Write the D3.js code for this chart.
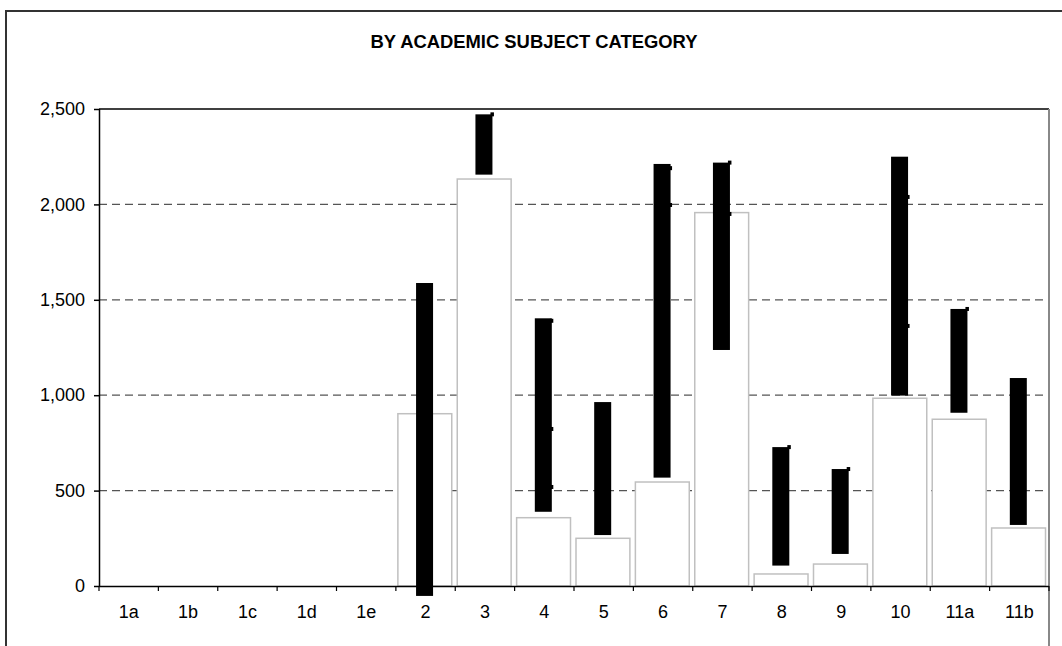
<!DOCTYPE html>
<html>
<head>
<meta charset="utf-8">
<script src="https://cdn.jsdelivr.net/npm/d3@7"></script>
<style>
  body { margin: 0; background: #fff; }
  svg { display: block; font-family: Arial, "Liberation Sans", sans-serif; }
</style>
</head>
<body>
<div id="chart"></div>
<script>
// data
const categories = ['1a', '1b', '1c', '1d', '1e', '2', '3', '4', '5', '6', '7', '8', '9', '10', '11a', '11b'];
const barValues = [0, 0, 0, 0, 0, 903, 2133, 358, 250, 545, 1957, 63, 115, 984, 874, 304];
const rangeLow = [null, null, null, null, null, -52, 2156, 389, 267, 568, 1237, 107, 168, 998, 908, 320];
const rangeHigh = [null, null, null, null, null, 1588, 2472, 1403, 964, 2212, 2219, 728, 613, 2250, 1452, 1090];
const markUpper = [null, null, null, null, null, null, 2472, 1390, null, 2190, 2219, 728, 613, 2039, 1452, null];
const markLower = [null, null, null, null, null, null, null, 823, null, 1997, 1950, null, null, 1363, null, null];
const markBottom = [null, null, null, null, null, null, null, 519, null, null, null, null, null, null, null, null];
const yTicks = [0, 500, 1000, 1500, 2000, 2500];

const W = 1062, H = 646;
const margin = { top: 109, right: 13, bottom: 60, left: 99 };
const plotW = W - margin.left - margin.right;
const plotH = H - margin.top - margin.bottom;

const svg = d3.select('#chart')
  .append('svg')
  .attr('width', W)
  .attr('height', H);

// outer chart frame (cut off at right and bottom)
svg.append('path')
  .attr('d', `M6,${H + 5} L6,11 L${W + 5},11`)
  .attr('fill', 'none')
  .attr('stroke', '#333')
  .attr('stroke-width', 2);

svg.append('text')
  .text('BY ACADEMIC SUBJECT CATEGORY')
  .attr('x', 534)
  .attr('y', 48)
  .attr('text-anchor', 'middle')
  .attr('font-size', 18.4)
  .attr('font-weight', 'bold')
  .attr('fill', '#000');

const g = svg.append('g')
  .attr('transform', `translate(${margin.left}, ${margin.top})`);

const xScale = d3.scaleBand()
  .domain(categories)
  .range([0, plotW])
  .padding(0);

const yScale = d3.scaleLinear()
  .domain([0, 2500])
  .range([plotH, 0]);

// dashed gridlines
g.append('g')
  .selectAll('line')
  .data(yTicks.filter((t) => t > 0 && t < 2500))
  .enter()
  .append('line')
  .attr('x1', 0)
  .attr('x2', plotW)
  .attr('y1', (d) => yScale(d))
  .attr('y2', (d) => yScale(d))
  .attr('stroke', '#555')
  .attr('stroke-width', 1.2)
  .attr('stroke-dasharray', '8,5');

// plot border: top black, right grey
g.append('line')
  .attr('x1', 0).attr('x2', plotW)
  .attr('y1', 0).attr('y2', 0)
  .attr('stroke', '#000')
  .attr('stroke-width', 1.5);
g.append('line')
  .attr('x1', plotW).attr('x2', plotW)
  .attr('y1', 0).attr('y2', plotH + 60)
  .attr('stroke', '#888')
  .attr('stroke-width', 2);

const bw = xScale.bandwidth();

// white bars with grey outline
g.append('g')
  .selectAll('rect')
  .data(categories.map((c, i) => ({ c, v: barValues[i] })).filter((d) => d.v > 0))
  .enter()
  .append('rect')
  .attr('x', (d) => xScale(d.c) + 2)
  .attr('y', (d) => yScale(d.v))
  .attr('width', bw - 5.5)
  .attr('height', (d) => yScale(0) - yScale(d.v))
  .attr('fill', '#fff')
  .attr('stroke', '#c0c0c0')
  .attr('stroke-width', 1.5);

// black floating range bars
const rangeData = categories.map((c, i) => ({ c, lo: rangeLow[i], hi: rangeHigh[i] }))
  .filter((d) => d.lo !== null);
const rw = 17;
g.append('g')
  .selectAll('rect')
  .data(rangeData)
  .enter()
  .append('rect')
  .attr('x', (d) => xScale(d.c) + bw / 2 - 1 - rw / 2)
  .attr('y', (d) => yScale(d.hi))
  .attr('width', rw)
  .attr('height', (d) => yScale(d.lo) - yScale(d.hi))
  .attr('fill', '#000');

// small point markers on the range bars
const marks = [];
[markUpper, markLower, markBottom].forEach((arr) => {
  arr.forEach((v, i) => { if (v !== null) marks.push({ c: categories[i], v }); });
});
g.append('g')
  .selectAll('rect')
  .data(marks)
  .enter()
  .append('rect')
  .attr('x', (d) => xScale(d.c) + bw / 2 - 1 + rw / 2 - 2)
  .attr('y', (d) => yScale(d.v) - 2)
  .attr('width', 3.5)
  .attr('height', 4)
  .attr('fill', '#000');

// axes
const yAxis = d3.axisLeft(yScale)
  .tickValues(yTicks)
  .tickSize(5)
  .tickPadding(9)
  .tickFormat(d3.format(','));
g.append('g')
  .attr('class', 'y-axis')
  .call(yAxis);

const xAxis = d3.axisBottom(xScale)
  .tickSize(0)
  .tickPadding(19);
g.append('g')
  .attr('class', 'x-axis')
  .attr('transform', `translate(0, ${plotH})`)
  .call(xAxis);

// tick marks between categories
g.append('g')
  .selectAll('line')
  .data(d3.range(categories.length + 1))
  .enter()
  .append('line')
  .attr('x1', (i) => i * bw)
  .attr('x2', (i) => i * bw)
  .attr('y1', plotH)
  .attr('y2', plotH + 5)
  .attr('stroke', '#000')
  .attr('stroke-width', 1.2);

d3.selectAll('.x-axis path, .y-axis path, .y-axis line').attr('stroke', '#000').attr('stroke-width', 1.5);
d3.selectAll('.x-axis text, .y-axis text')
  .attr('fill', '#000')
  .attr('font-size', 18)
  .attr('font-family', 'Arial, "Liberation Sans", sans-serif');
d3.selectAll('.x-axis path').attr('d', `M0,0.5H${plotW}`);
d3.selectAll('.y-axis path').attr('d', `M0.5,0V${plotH}`);
</script>
</body>
</html>
